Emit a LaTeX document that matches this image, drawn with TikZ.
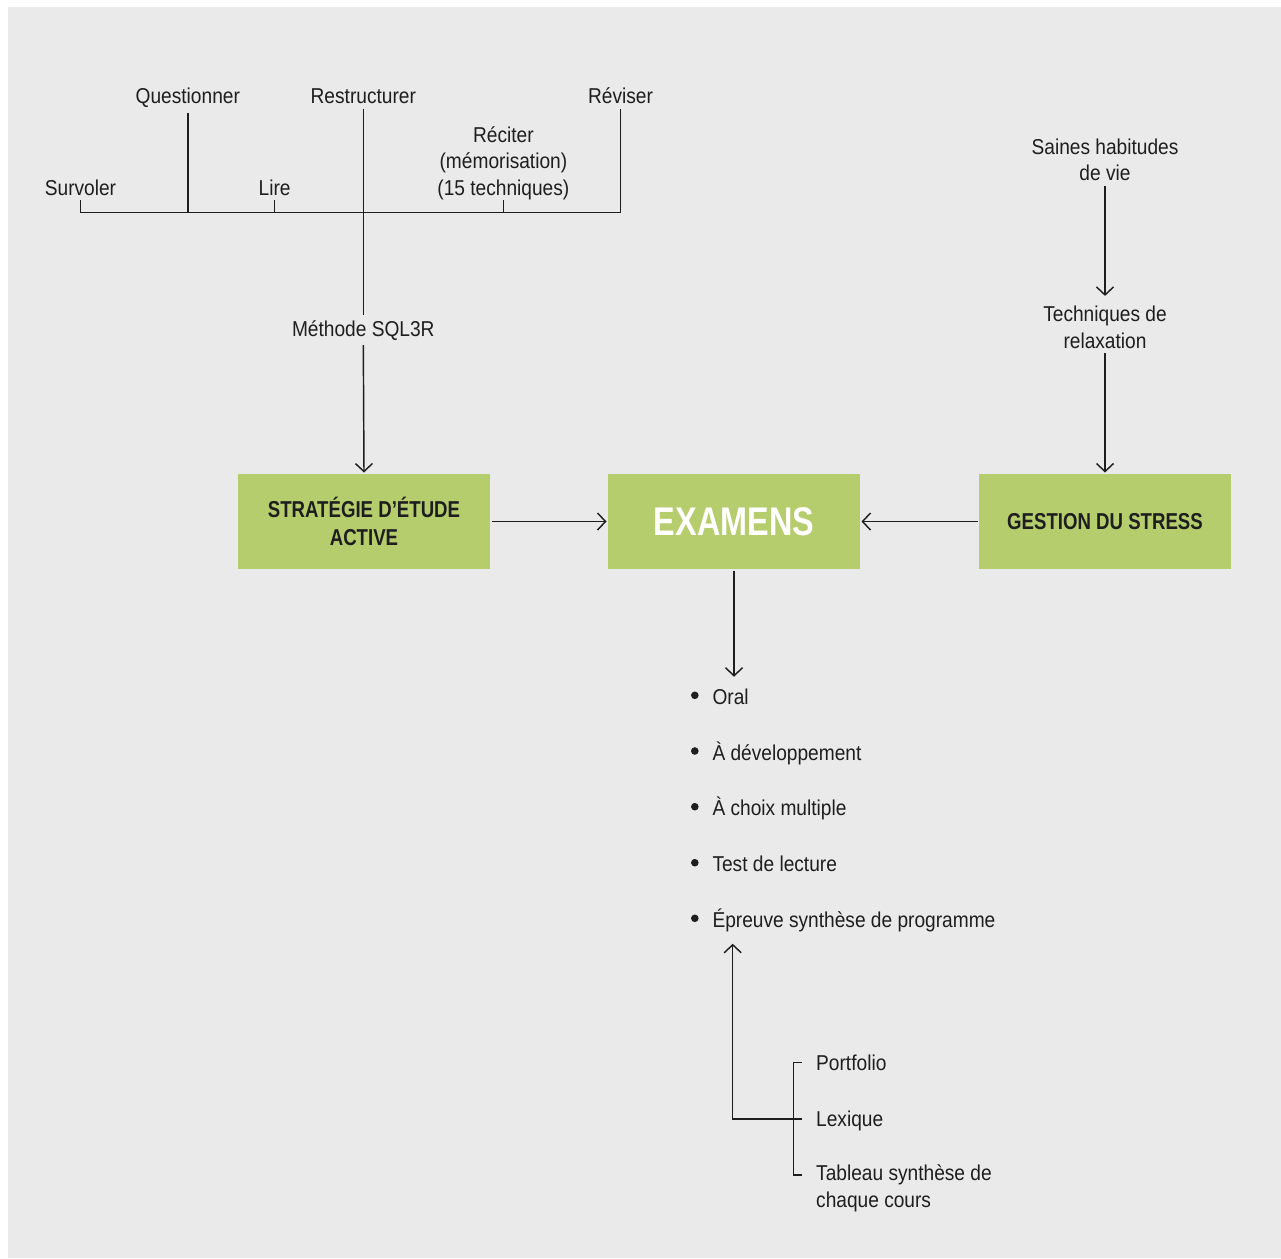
\documentclass[tikz,border=0pt]{standalone}
\usepackage{fontspec}
\setmainfont[FakeStretch=0.89]{Liberation Sans}
\newfontfamily\headfont[FakeStretch=0.81]{Liberation Sans}
\usetikzlibrary{arrows.meta}
\definecolor{paper}{HTML}{EAEAEA}
\definecolor{leaf}{HTML}{B6CD6E}
\definecolor{ink}{HTML}{1E1E1E}
\begin{document}
\begin{tikzpicture}[x=1pt,y=-1pt,
  lab/.style={inner sep=0pt, outer ysep=5pt, text=ink, anchor=base,
    font=\fontsize{21.5}{26.5}\selectfont},
  multi/.style={lab, align=center},
  item/.style={lab, anchor=base west},
  box/.style={fill=leaf, minimum width=252pt, minimum height=95pt,
    inner sep=0pt, outer sep=1.5pt, text=ink, align=center,
    font=\headfont\bfseries\fontsize{23}{27.5}\selectfont},
  link/.style={draw=ink, line width=1.45pt},
  arr/.style={link, -{Straight Barb[length=8pt,width=17pt]}},
  dot/.style={fill=ink},
]
\useasboundingbox (0,0) rectangle (1281,1258);
\fill[paper] (8,7) rectangle (1281,1258);

% --- SQL3R method (multi-line labels are placed by their last baseline) ---
\node[lab] (survoler) at (80.5,195) {Survoler};
\node[lab] (questionner) at (187.8,103.5) {Questionner};
\node[lab] (lire) at (274.6,195) {Lire};
\node[lab] (restructurer) at (363.3,103.5) {Restructurer};
\node[multi, outer ysep=0.5pt] (reciter) at (503.4,195) {Réciter\\(mémorisation)\\(15 techniques)};
\node[lab] (reviser) at (620.5,103.5) {Réviser};
\node[lab] (sql) at (363.3,336) {Méthode SQL3R};
\coordinate (bus) at (0,212.7);

\draw[link] (survoler.south) -- (survoler.south |- bus)
  -- (reviser.south |- bus) -- (reviser.south);
\draw[link] (questionner.south) -- (questionner.south |- bus);
\draw[link] (lire.south) -- (lire.south |- bus);
\draw[link] (reciter.south) -- (reciter.south |- bus);
\draw[link] (restructurer.south) -- (sql.north);

% --- main boxes ---
\node[box] (strategie) at (364,521.5) {STRATÉGIE D’ÉTUDE\\ACTIVE};
\node[box, text=white, font=\headfont\bfseries\fontsize{40}{44}\selectfont]
  (examens) at (734,521.5) {EXAMENS};
\node[box] (stress) at (1105,521.5) {GESTION DU STRESS};

\draw[arr] (sql.south) -- (strategie.north);
\draw[arr] (strategie.east) -- (examens.west);
\draw[arr] (stress.west) -- (examens.east);

% --- stress management ---
\node[multi] (saines) at (1105,180.7) {Saines habitudes\\de vie};
\node[multi] (relax) at (1105,348) {Techniques de\\relaxation};
\draw[arr, shorten >=5pt] (saines.south) -- (relax.north);
\draw[arr] (relax.south) -- (stress.north);

% --- exam types ---
\node[item] (oral) at (712.3,704.3) {Oral};
\node[item] (devel) at (712.3,760) {À développement};
\node[item] (choix) at (712.3,815.7) {À choix multiple};
\node[item] (lecture) at (712.3,871.7) {Test de lecture};
\node[item] (epreuve) at (712.3,927.3) {Épreuve synthèse de programme};
\foreach \n in {oral,devel,choix,lecture,epreuve}
  \fill[dot] ([xshift=-17.5pt,yshift=9pt]\n.base west) circle (3.8pt);
\draw[arr, shorten >=7pt] (examens.south) -- (examens.south |- oral.north);

% --- course tools ---
\node[item] (portfolio) at (816,1070) {Portfolio};
\node[item] (lexique) at (816,1126) {Lexique};
\node[item, align=left] (tableau) at (816,1207.3) {Tableau synthèse de\\chaque cours};
\coordinate (spine) at (793.3,1119);
\coordinate (tickP) at (801.7,1062.7);
\coordinate (tickL) at (801.7,1119);
\coordinate (tickT) at (801.7,1175);
\coordinate (hub) at (732.7,1119);
\draw[link] (tickP) -- (tickP -| spine) -- (tickT -| spine) -- (tickT);
\draw[arr, shorten >=7pt] (tickL) -- (hub) -- (hub |- epreuve.south);
\end{tikzpicture}
\end{document}
